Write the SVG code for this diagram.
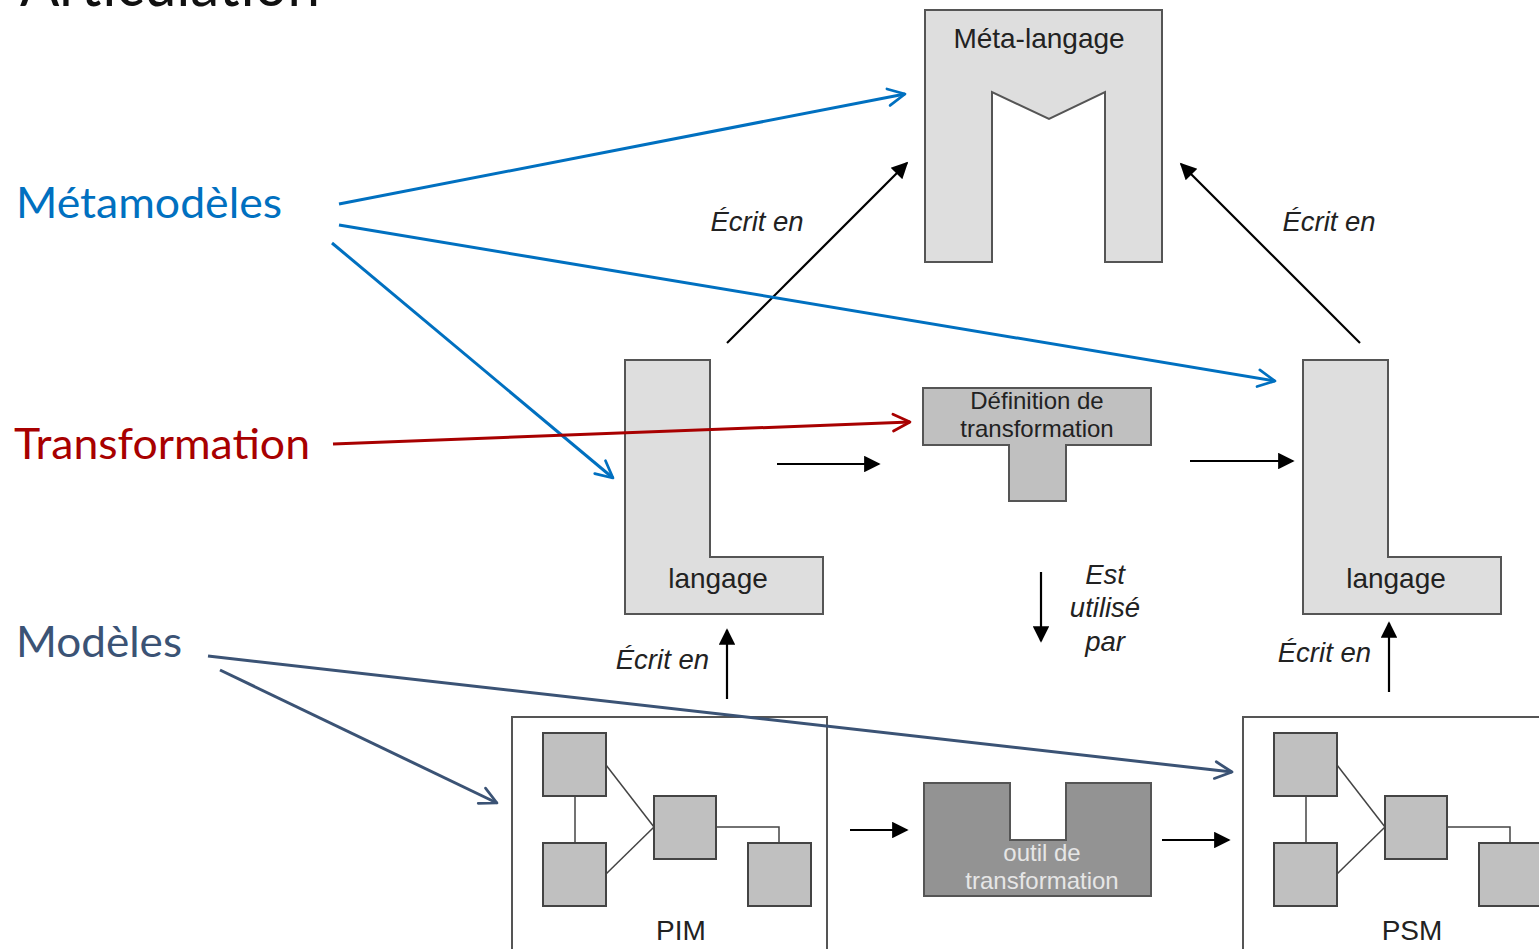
<svg xmlns="http://www.w3.org/2000/svg" width="1539" height="949" viewBox="0 0 1539 949">
  <style>
    .shape { stroke: #555; stroke-width: 2; }
    .light { fill: #dedede; }
    .mid { fill: #c0c0c0; }
    .dark { fill: #939393; }
    .box { fill: #c0c0c0; stroke: #444; stroke-width: 2; }
    .frame { fill: #fff; stroke: #555; stroke-width: 2; }
    .thin { fill: none; stroke: #444; stroke-width: 1.5; }
    .lbl { font-family: "Liberation Sans", Arial, sans-serif; fill: #222; text-anchor: middle; }
    .it { font-family: "Liberation Sans", Arial, sans-serif; font-style: italic; fill: #222; font-size: 27.5px; }
    .side { font-family: Lato, "Open Sans", sans-serif; font-size: 42px; }
    .blk { fill: none; stroke: #000; stroke-width: 2.2; marker-end: url(#head); }
    .blue { fill: none; stroke: #0070c0; stroke-width: 3; marker-end: url(#chevB); }
    .red { fill: none; stroke: #a80000; stroke-width: 3; marker-end: url(#chevR); }
    .slate { fill: none; stroke: #3b5375; stroke-width: 3; marker-end: url(#chevS); }
  </style>
  <defs>
    <marker id="head" viewBox="0 0 10 10" refX="9" refY="5" markerWidth="8.5" markerHeight="7.5" orient="auto" markerUnits="strokeWidth">
      <path d="M0,0 L10,5 L0,10 Z" fill="#000"/>
    </marker>
    <marker id="chevB" viewBox="0 0 10 10" refX="9" refY="5" markerWidth="7" markerHeight="7" orient="auto" markerUnits="strokeWidth">
      <path d="M1,1 L9,5 L1,9" fill="none" stroke="#0070c0" stroke-width="1.3" stroke-linecap="round" stroke-linejoin="round"/>
    </marker>
    <marker id="chevR" viewBox="0 0 10 10" refX="9" refY="5" markerWidth="7" markerHeight="7" orient="auto" markerUnits="strokeWidth">
      <path d="M1,1 L9,5 L1,9" fill="none" stroke="#a80000" stroke-width="1.3" stroke-linecap="round" stroke-linejoin="round"/>
    </marker>
    <marker id="chevS" viewBox="0 0 10 10" refX="9" refY="5" markerWidth="7" markerHeight="7" orient="auto" markerUnits="strokeWidth">
      <path d="M1,1 L9,5 L1,9" fill="none" stroke="#3b5375" stroke-width="1.3" stroke-linecap="round" stroke-linejoin="round"/>
    </marker>
  </defs>

  <rect width="1539" height="949" fill="#fff"/>

  <!-- slide title, running off the top edge -->
  <text x="20" y="6" font-family="Lato, 'Open Sans', sans-serif" font-size="62" fill="#111" textLength="300" lengthAdjust="spacingAndGlyphs">Articulation</text>

  <!-- side labels -->
  <g id="label-metamodeles"><text class="side" x="16" y="218" fill="#0070c0" textLength="266" lengthAdjust="spacingAndGlyphs">Métamodèles</text></g>
  <g id="label-transformation"><text class="side" x="14" y="459" fill="#a80000" textLength="296" lengthAdjust="spacingAndGlyphs">Transformation</text></g>
  <g id="label-modeles"><text class="side" x="16" y="657" fill="#3b5375" textLength="166" lengthAdjust="spacingAndGlyphs">Modèles</text></g>

  <!-- Méta-langage -->
  <g id="meta-langage">
    <path class="shape light" d="M925,10 H1162 V262 H1105 V92 L1049,119 L992,92 V262 H925 Z"/>
    <text class="lbl" x="1039" y="48" font-size="28">Méta-langage</text>
  </g>

  <!-- source language -->
  <g id="langage-source">
    <path class="shape light" d="M625,360 H710 V557 H823 V614 H625 Z"/>
    <text class="lbl" x="718" y="588" font-size="28">langage</text>
  </g>

  <!-- target language -->
  <g id="langage-cible">
    <path class="shape light" d="M1303,360 H1388 V557 H1501 V614 H1303 Z"/>
    <text class="lbl" x="1396" y="588" font-size="28">langage</text>
  </g>

  <!-- transformation definition -->
  <g id="definition-transformation">
    <path class="shape mid" d="M923,388 H1151 V445 H1066 V501 H1009 V445 H923 Z"/>
    <text class="lbl" x="1037" y="409" font-size="24">Définition de</text>
    <text class="lbl" x="1037" y="437" font-size="24">transformation</text>
  </g>

  <!-- transformation tool -->
  <g id="outil-transformation">
    <path class="shape dark" d="M924,783 H1010 V840 H1066 V783 H1151 V896 H924 Z"/>
    <text class="lbl" x="1042" y="861" font-size="24" style="fill:#e6e6e6">outil de</text>
    <text class="lbl" x="1042" y="889" font-size="24" style="fill:#e6e6e6">transformation</text>
  </g>

  <!-- PIM -->
  <g id="pim">
    <path class="frame" d="M512,952 V717 H827 V952"/>
    <line class="thin" x1="575" y1="796" x2="575" y2="843"/>
    <line class="thin" x1="606" y1="765" x2="654" y2="827"/>
    <line class="thin" x1="606" y1="874" x2="654" y2="827"/>
    <path class="thin" d="M716,827 H779 V843"/>
    <rect class="box" x="543" y="733" width="63" height="63"/>
    <rect class="box" x="543" y="843" width="63" height="63"/>
    <rect class="box" x="654" y="796" width="62" height="63"/>
    <rect class="box" x="748" y="843" width="63" height="63"/>
    <text class="lbl" x="681" y="940" font-size="28">PIM</text>
  </g>

  <!-- PSM -->
  <g id="psm">
    <path class="frame" d="M1243,952 V717 H1545"/>
    <line class="thin" x1="1306" y1="796" x2="1306" y2="843"/>
    <line class="thin" x1="1337" y1="765" x2="1385" y2="827"/>
    <line class="thin" x1="1337" y1="874" x2="1385" y2="827"/>
    <path class="thin" d="M1447,827 H1510 V843"/>
    <rect class="box" x="1274" y="733" width="63" height="63"/>
    <rect class="box" x="1274" y="843" width="63" height="63"/>
    <rect class="box" x="1385" y="796" width="62" height="63"/>
    <rect class="box" x="1479" y="843" width="63" height="63"/>
    <text class="lbl" x="1412" y="940" font-size="28">PSM</text>
  </g>

  <!-- connectors -->
  <g id="connectors">
    <line class="blk" x1="727" y1="343" x2="907" y2="163"/>
    <line class="blk" x1="1360" y1="343" x2="1181" y2="164"/>
    <line class="blk" x1="777" y1="464" x2="879" y2="464"/>
    <line class="blk" x1="1190" y1="461" x2="1293" y2="461"/>
    <line class="blk" x1="1041" y1="572" x2="1041" y2="641"/>
    <line class="blk" x1="727" y1="699" x2="727" y2="630"/>
    <line class="blk" x1="1389" y1="692" x2="1389" y2="623"/>
    <line class="blk" x1="850" y1="830" x2="907" y2="830"/>
    <line class="blk" x1="1162" y1="840" x2="1229" y2="840"/>

    <line class="blue" x1="339" y1="204" x2="905" y2="94"/>
    <line class="blue" x1="339" y1="225" x2="1275" y2="381"/>
    <line class="blue" x1="332" y1="243" x2="613" y2="478"/>
    <line class="red" x1="333" y1="444" x2="910" y2="422"/>
    <line class="slate" x1="208" y1="656" x2="1232" y2="772"/>
    <line class="slate" x1="220" y1="670" x2="497" y2="803"/>

    <text class="it" x="757" y="231" text-anchor="middle">Écrit en</text>
    <text class="it" x="1329" y="231" text-anchor="middle">Écrit en</text>
    <text class="it" x="709" y="669" text-anchor="end">Écrit en</text>
    <text class="it" x="1371" y="662" text-anchor="end">Écrit en</text>
    <text class="it" x="1105" y="584" text-anchor="middle">Est</text>
    <text class="it" x="1105" y="617" text-anchor="middle">utilisé</text>
    <text class="it" x="1105" y="651" text-anchor="middle">par</text>
  </g>
</svg>
